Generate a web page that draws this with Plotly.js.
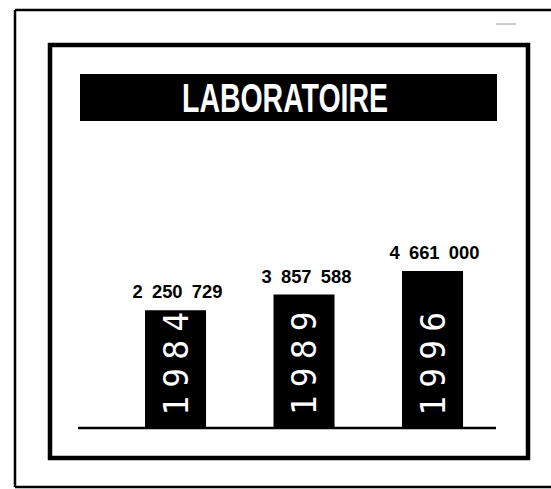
<!DOCTYPE html>
<html>
<head>
<meta charset="utf-8">
<script src="https://cdn.plot.ly/plotly-3.0.1.min.js"></script>
<style>
  html, body { margin: 0; padding: 0; background: #ffffff; }
  #chart { width: 551px; height: 489px; }
</style>
</head>
<body>
<div id="chart"></div>
<script>
// ---- Data ----
const chartTitle = 'LABORATOIRE';
const years = ['1984', '1989', '1996'];
const values = [2250729, 3857588, 4661000];
// Drawn bar heights (relative units, tallest = 100) as they appear in the picture
const barHeights = [75, 85, 100];

// ---- Helpers ----
const W = 551, H = 489;
const px = x => x / W;
const py = y => 1 - y / H;
const fmt = v => String(v).replace(/\B(?=(\d{3})+(?!\d))/g, '\u2002');

const bars = {
  type: 'bar',
  x: years,
  y: barHeights,
  width: 0.475,
  marker: { color: '#000000', line: { width: 0 } },
  hoverinfo: 'skip',
  showlegend: false
};

// category axis: annotations are placed by category index
const valueAnnotations = years.map((yr, i) => ({
  x: i, y: barHeights[i], xref: 'x', yref: 'y',
  xanchor: 'center', yanchor: 'bottom', yshift: 6, xshift: 2,
  showarrow: false,
  text: fmt(values[i]),
  font: { family: 'Liberation Sans, Arial, sans-serif', size: 19, color: '#000000', weight: 'bold' }
}));

const yearAnnotations = years.map((yr, i) => ({
  x: i, y: 0, xref: 'x', yref: 'y',
  xanchor: 'center', yanchor: 'middle', yshift: 64,
  textangle: -90,
  showarrow: false,
  text: yr,
  font: { family: 'DejaVu Sans Mono, Liberation Mono, monospace', size: 33, color: '#ffffff' }
}));

const line = (x0, y0, x1, y1, w, color) => ({
  type: 'line', xref: 'paper', yref: 'paper',
  x0: px(x0), y0: py(y0), x1: px(x1), y1: py(y1),
  line: { color: color || '#000000', width: w }
});

const shapes = [
  // outer frame (open on the right, runs off the page)
  line(15, 10, 551, 10, 2.5),
  line(15, 10, 15, 487, 2.5),
  line(15, 487, 551, 487, 2.5),
  // small scan mark
  line(496, 24, 516, 24, 1, '#9a9a9a'),
  // inner frame
  { type: 'rect', xref: 'paper', yref: 'paper',
    x0: px(50), y0: py(45), x1: px(528), y1: py(458),
    line: { color: '#000000', width: 4.5 }, fillcolor: 'rgba(0,0,0,0)' },
  // title bar
  { type: 'rect', xref: 'paper', yref: 'paper',
    x0: px(80), y0: py(74), x1: px(497), y1: py(121),
    line: { width: 0 }, fillcolor: '#000000', layer: 'below' },
  // baseline
  { type: 'line', xref: 'paper', yref: 'y',
    x0: px(78), x1: px(496), y0: 0, y1: 0,
    line: { color: '#000000', width: 2.5 } }
];

const layout = {
  width: W, height: H,
  margin: { l: 0, r: 0, t: 0, b: 0, pad: 0 },
  paper_bgcolor: '#ffffff',
  plot_bgcolor: 'rgba(0,0,0,0)',
  showlegend: false,
  title: {
    text: chartTitle,
    x: px(285), y: py(98), xref: 'paper', yref: 'paper',
    xanchor: 'center', yanchor: 'middle',
    font: { family: 'Liberation Sans, Arial, sans-serif', size: 41, color: '#ffffff', weight: 'bold' }
  },
  xaxis: {
    type: 'category', range: [-1.366, 2.922], visible: false,
    showgrid: false, zeroline: false, fixedrange: true
  },
  yaxis: {
    range: [-38.85, 272.6], visible: false,
    showgrid: false, zeroline: false, fixedrange: true
  },
  shapes: shapes,
  annotations: valueAnnotations.concat(yearAnnotations)
};

// Condensed / spaced lettering of the original, applied to the real text elements
function fitText(el, len, mode) {
  if (!el) return;
  el.setAttribute('textLength', len);
  el.setAttribute('lengthAdjust', mode);
}

Plotly.newPlot('chart', [bars], layout, { staticPlot: true, displayModeBar: false }).then(gd => {
  fitText(gd.querySelector('.gtitle'), 206, 'spacingAndGlyphs');
  const n = years.length;
  for (let i = 0; i < n; i++) {
    fitText(gd.querySelector('g.annotation[data-index="' + i + '"] text.annotation-text'), 90, 'spacingAndGlyphs');
    fitText(gd.querySelector('g.annotation[data-index="' + (n + i) + '"] text.annotation-text'), 104, 'spacing');
  }
});
</script>
</body>
</html>
